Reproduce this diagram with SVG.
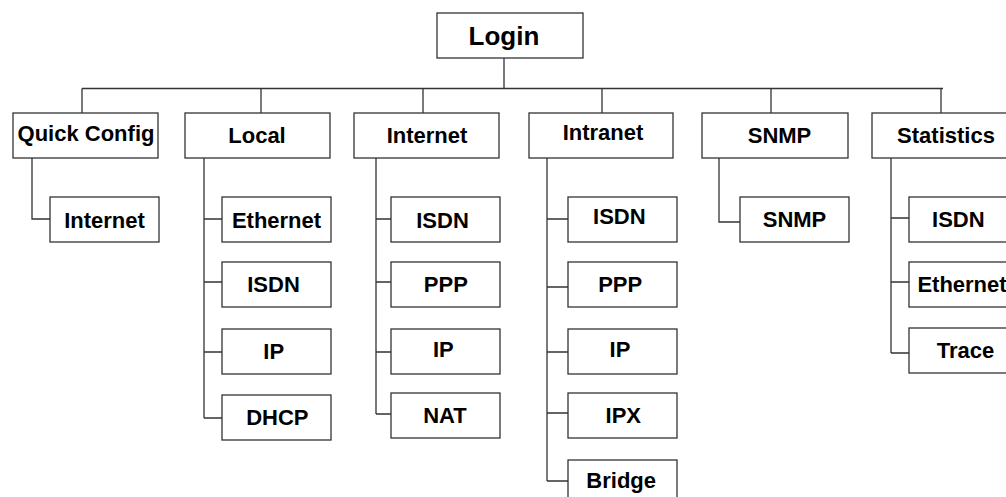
<svg xmlns="http://www.w3.org/2000/svg" width="1006" height="497" viewBox="0 0 1006 497">
<style>
rect{fill:#fff;stroke:#333;stroke-width:1.3}
.c path{fill:none;stroke:#333;stroke-width:1.3}
text{font-family:"Liberation Sans",Arial,sans-serif;font-weight:bold;font-size:22px;fill:#000;text-anchor:middle}
</style>
<rect x="0" y="0" width="1006" height="497" style="stroke:none"/>
<g class="c" id="connectors">
<path d="M504 58V88.5M82 88.5H943M82 88.5V113M261 88.5V113M423 88.5V113M602 88.5V113M771 88.5V113M941 88.5V113"/>
<path d="M32 158V219H50"/>
<path d="M204 158V418M204 219H222M204 282H222M204 352H222M204 418H222"/>
<path d="M376 158V414M376 219H391M376 282H391M376 352H391M376 414H391"/>
<path d="M547 158V481M547 219H568M547 287H568M547 352H568M547 413H568M547 481H568"/>
<path d="M719 158V222H740"/>
<path d="M891 158V353M891 218H909M891 282H909M891 353H909"/>
</g>
<g id="login"><rect x="437" y="13" width="146" height="45"/><text x="504" y="44.5" style="font-size:26px">Login</text></g>
<g id="quickconfig"><rect x="13" y="113" width="145" height="45"/><text x="86" y="141">Quick Config</text></g>
<g id="local"><rect x="185" y="113" width="145" height="45"/><text x="257" y="143.3">Local</text></g>
<g id="internet"><rect x="354" y="113" width="145" height="45"/><text x="427" y="143.3">Internet</text></g>
<g id="intranet"><rect x="529" y="113" width="144" height="45"/><text x="603" y="140">Intranet</text></g>
<g id="snmp"><rect x="702" y="113" width="146" height="45"/><text x="779.5" y="143.3">SNMP</text></g>
<g id="statistics"><rect x="872" y="113" width="145" height="45"/><text x="946" y="142.7">Statistics</text></g>
<g id="qc-internet"><rect x="50" y="197" width="109" height="45"/><text x="104.5" y="227.7">Internet</text></g>
<g id="local-ethernet"><rect x="222" y="197" width="109" height="45"/><text x="276.5" y="227.7">Ethernet</text></g>
<g id="local-isdn"><rect x="222" y="262" width="109" height="45"/><text x="273.5" y="292.3">ISDN</text></g>
<g id="local-ip"><rect x="222" y="329" width="109" height="45"/><text x="273.7" y="359">IP</text></g>
<g id="local-dhcp"><rect x="222" y="395" width="109" height="45"/><text x="277.3" y="425">DHCP</text></g>
<g id="inet-isdn"><rect x="391" y="197" width="109" height="45"/><text x="442.5" y="227.7">ISDN</text></g>
<g id="inet-ppp"><rect x="391" y="262" width="109" height="45"/><text x="445.8" y="292.3">PPP</text></g>
<g id="inet-ip"><rect x="391" y="329" width="109" height="45"/><text x="443.3" y="356.7">IP</text></g>
<g id="inet-nat"><rect x="391" y="393" width="109" height="45"/><text x="445" y="423.3">NAT</text></g>
<g id="intra-isdn"><rect x="568" y="197" width="109" height="45"/><text x="619.3" y="224.3">ISDN</text></g>
<g id="intra-ppp"><rect x="568" y="262" width="109" height="45"/><text x="620.2" y="292.3">PPP</text></g>
<g id="intra-ip"><rect x="568" y="329" width="109" height="45"/><text x="620" y="356.7">IP</text></g>
<g id="intra-ipx"><rect x="568" y="393" width="109" height="45"/><text x="623.3" y="423.3">IPX</text></g>
<g id="intra-bridge"><rect x="568" y="460" width="109" height="45"/><text x="621.2" y="488.3">Bridge</text></g>
<g id="snmp-snmp"><rect x="740" y="197" width="109" height="45"/><text x="794.5" y="226.7">SNMP</text></g>
<g id="stat-isdn"><rect x="909" y="197" width="109" height="45"/><text x="958.3" y="226.7">ISDN</text></g>
<g id="stat-ethernet"><rect x="909" y="262" width="109" height="45"/><text x="962" y="291.7">Ethernet</text></g>
<g id="stat-trace"><rect x="909" y="328" width="109" height="45"/><text x="965.5" y="358.3">Trace</text></g>
</svg>
